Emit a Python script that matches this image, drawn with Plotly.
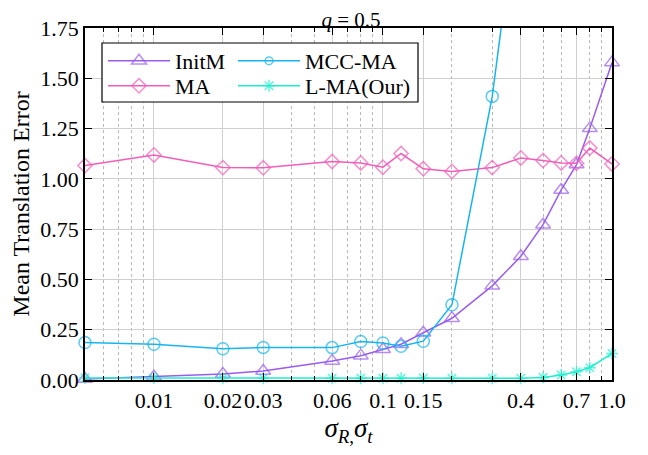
import plotly.graph_objects as go
import math

# ---------------- data ----------------
x_vals = [0.005, 0.01, 0.02, 0.03, 0.06, 0.08, 0.1, 0.12, 0.15, 0.2, 0.3, 0.4, 0.5, 0.6, 0.7, 0.8, 1.0]
initm = [0.005, 0.016, 0.030, 0.045, 0.095, 0.121, 0.153, 0.178, 0.235, 0.307, 0.468, 0.615, 0.772, 0.945, 1.071, 1.251, 1.578]
ma = [1.066, 1.119, 1.056, 1.055, 1.086, 1.079, 1.058, 1.126, 1.050, 1.037, 1.056, 1.104, 1.091, 1.079, 1.078, 1.153, 1.074]
mcc_ma = [0.186, 0.178, 0.155, 0.162, 0.161, 0.191, 0.184, 0.168, 0.193, 0.374, 1.41, 2.50, None, None, None, None, None]
lma = [0.010, 0.010, 0.009, 0.009, 0.009, 0.009, 0.009, 0.009, 0.010, 0.009, 0.009, 0.009, 0.013, 0.025, 0.041, 0.061, 0.132]

x_tick_vals = [0.01, 0.02, 0.03, 0.06, 0.1, 0.15, 0.4, 0.7, 1.0]
x_tick_text = ["0.01", "0.02", "0.03", "0.06", "0.1", "0.15", "0.4", "0.7", "1.0"]
x_minor_vals = [0.006, 0.007, 0.008, 0.009, 0.04, 0.05, 0.07, 0.08, 0.09, 0.2, 0.3, 0.5, 0.6, 0.8, 0.9]
y_tick_vals = [0, 0.25, 0.5, 0.75, 1.0, 1.25, 1.5, 1.75]

Y_MAX = 1.75
FONT = "Liberation Serif"

C_INITM = "#9A5CEE"
C_MA = "#F25DB8"
C_MCC = "#17B5F0"
C_LMA = "#1CEFCF"

fig = go.Figure()

def add(name, y, color, symbol, size, legend):
    sizes = [size if (v is not None and v <= Y_MAX) else 0 for v in y]
    fig.add_trace(go.Scatter(
        x=x_vals, y=y, name=name, mode="lines+markers",
        line=dict(color=color, width=1.5),
        marker=dict(symbol=symbol, size=sizes, color=color, line=dict(color=color, width=1.5)),
        cliponaxis=False, legend=legend, connectgaps=False,
    ))

add("InitM", initm, C_INITM, "triangle-up-open", 13, "legend")
add("MA", ma, C_MA, "diamond-open", 11, "legend2")
add("MCC-MA", mcc_ma, C_MCC, "circle-open", 12, "legend3")
add("L-MA(Our)", lma, C_LMA, "asterisk-open", 10, "legend4")

# screen layout (page has an 8px body margin)
OFF = 8
SW, SH = 648, 455
W, H = SW - OFF, SH - OFF
L, R, T, B = 85, 612, 28, 380   # plot area in screen px
def px2x(p):
    return (p - L) / (R - L)
def px2y(p):
    return (B - p) / (B - T)

leg_common = dict(font=dict(family=FONT, size=22, color="black"), bgcolor="rgba(0,0,0,0)",
                  borderwidth=0, itemwidth=62, xanchor="left", yanchor="middle",
                  orientation="v", tracegroupgap=0)

fig.update_layout(
    width=W, height=H,
    margin=dict(l=L - OFF, r=SW - R, t=T - OFF, b=SH - B, autoexpand=False),
    paper_bgcolor="white", plot_bgcolor="white",
    font=dict(family=FONT, size=22, color="black"),
    title=dict(text="<i>q</i> = 0.5", x=(351 - OFF) / W, xanchor="center",
               y=1 - (20 - OFF) / H, yanchor="middle", font=dict(family=FONT, size=21, color="black")),
    legend=dict(x=px2x(103), y=px2y(61), **leg_common),
    legend2=dict(x=px2x(103), y=px2y(86), **leg_common),
    legend3=dict(x=px2x(233), y=px2y(61), **leg_common),
    legend4=dict(x=px2x(233), y=px2y(86), **leg_common),
    showlegend=True,
)

fig.add_shape(type="rect", xref="paper", yref="paper",
              x0=px2x(102), x1=px2x(418), y0=px2y(102), y1=px2y(43),
              line=dict(color="black", width=1.2), fillcolor="white", layer="above")

fig.update_xaxes(
    type="log", range=[math.log10(0.005), 0], automargin=False,
    tickmode="array", tickvals=x_tick_vals, ticktext=x_tick_text, tickangle=0,
    ticks="inside", ticklen=7, tickwidth=1.2, tickcolor="black",
    showline=True, linecolor="black", linewidth=1.5, mirror="ticks",
    showgrid=True, gridcolor="#cfcfcf", gridwidth=1.2,
    minor=dict(tickmode="array", tickvals=x_minor_vals, ticks="inside", ticklen=4,
               tickcolor="black", tickwidth=1, showgrid=True, gridcolor="#b8b8b8",
               griddash="dot", gridwidth=1),
    tickfont=dict(family=FONT, size=22, color="black"),
    title=dict(text="<i>σ</i><sub><i>R</i>,</sub><i>σ</i><sub><i>t</i></sub>",
               font=dict(family=FONT, size=27, color="black"), standoff=4),
    zeroline=False,
)
fig.update_yaxes(
    range=[0, Y_MAX], automargin=False, tickmode="array", tickvals=y_tick_vals, tickformat=".2f",
    ticks="inside", ticklen=7, tickwidth=1.2, tickcolor="black",
    showline=True, linecolor="black", linewidth=1.5, mirror="ticks",
    showgrid=True, gridcolor="#cfcfcf", gridwidth=1.2,
    tickfont=dict(family=FONT, size=22, color="black"),
    title=dict(text="Mean Translation Error", font=dict(family=FONT, size=24, color="black"), standoff=4),
    zeroline=False,
)

fig.write_html("out.html")
